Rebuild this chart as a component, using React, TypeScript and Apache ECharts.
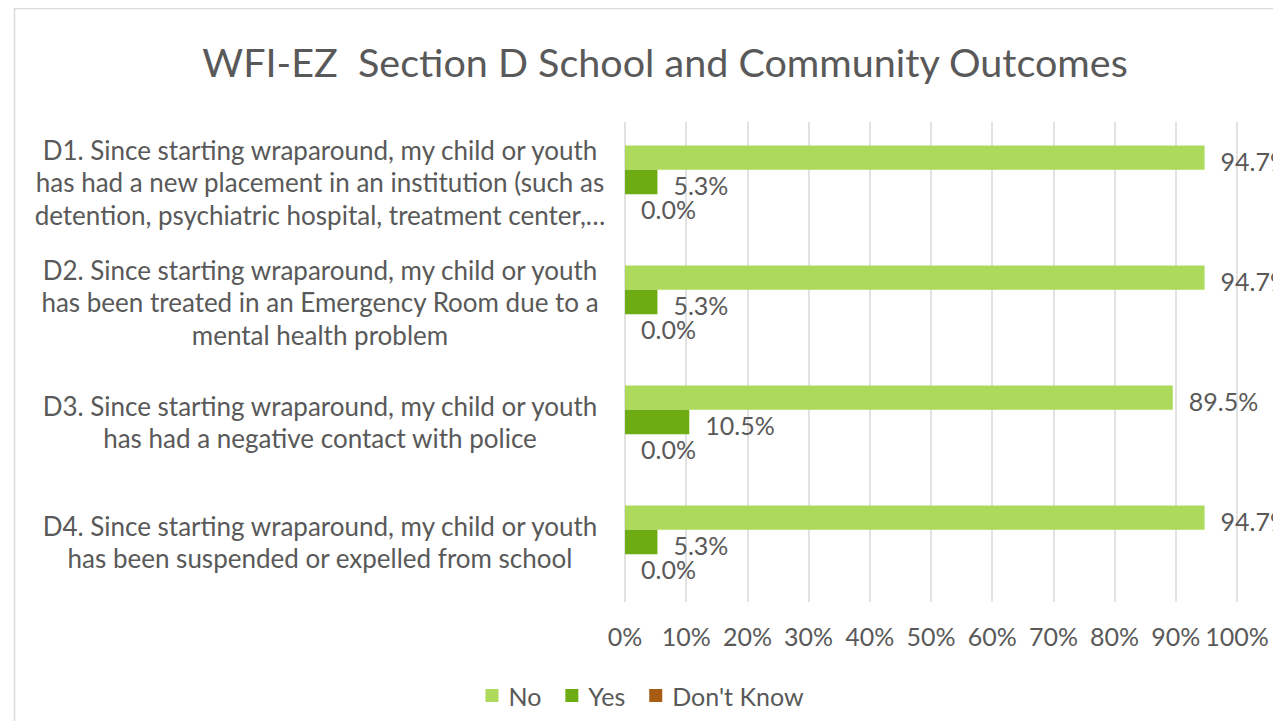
import React, { useEffect, useRef } from "react";
import * as echarts from "echarts";

const categories = [
  "D1. Since starting wraparound, my child or youth\nhas had a new placement in an institution (such as\ndetention, psychiatric hospital, treatment center,…",
  "D2. Since starting wraparound, my child or youth\nhas been treated in an Emergency Room due to a\nmental health problem",
  "D3. Since starting wraparound, my child or youth\nhas had a negative contact with police",
  "D4. Since starting wraparound, my child or youth\nhas been suspended or expelled from school",
];
const noValues = [94.7, 94.7, 89.5, 94.7];
const yesValues = [5.3, 5.3, 10.5, 5.3];
const dontKnowValues = [0.0, 0.0, 0.0, 0.0];
const xTicks = [0, 10, 20, 30, 40, 50, 60, 70, 80, 90, 100];

const FONT = "Lato";
const TEXT = "#595959";

export default function App() {
  const ref = useRef<HTMLDivElement>(null);
  useEffect(() => {
    if (!ref.current) return;
    const chart = echarts.init(ref.current, null, { renderer: "svg" });
    const label = {
      show: true,
      position: "right",
      distance: 16,
      offset: [0, 3],
      color: TEXT,
      fontFamily: FONT,
      fontSize: 25,
      formatter: (p: any) => p.value.toFixed(1) + "%",
    };
    const mk = (name: string, data: number[], color: string) => ({
      name,
      type: "bar",
      data,
      itemStyle: { color },
      label,
      barGap: "0%",
      barCategoryGap: "39%",
    });
    chart.setOption({
      animation: false,
      backgroundColor: "#ffffff",
      textStyle: { fontFamily: FONT },
      title: {
        text: "WFI-EZ  Section D School and Community Outcomes",
        left: 652,
        textAlign: "center",
        top: 28,
        textStyle: { color: TEXT, fontFamily: FONT, fontSize: 39.5, fontWeight: "normal" },
      },
      graphic: [
        {
          type: "rect",
          shape: { x: 6.5, y: 0.5, width: 1400, height: 900 },
          style: { fill: "none", stroke: "#d9d9d9", lineWidth: 1.5 },
          silent: true,
        },
      ],
      legend: {
        bottom: 8,
        left: "center",
        itemWidth: 13,
        itemHeight: 13,
        itemGap: 24,
        icon: "rect",
        textStyle: { color: TEXT, fontFamily: FONT, fontSize: 25, padding: [0, 0, 0, 5] },
        data: ["No", "Yes", "Don't Know"],
      },
      grid: { left: 617, right: 44, top: 114, bottom: 119, containLabel: false },
      xAxis: {
        type: "value",
        min: 0,
        max: 100,
        interval: 10,
        axisLine: { show: false },
        axisTick: { show: false },
        splitLine: { lineStyle: { color: "#d9d9d9", width: 1.5 } },
        axisLabel: {
          color: TEXT,
          fontFamily: FONT,
          fontSize: 25,
          margin: 21,
          formatter: (v: number) => (xTicks.includes(v) ? v + "%" : ""),
        },
      },
      yAxis: {
        type: "category",
        inverse: true,
        data: categories,
        axisLine: { show: false },
        axisTick: { show: false },
        axisLabel: {
          color: TEXT,
          fontFamily: FONT,
          fontSize: 26,
          lineHeight: 32.5,
          align: "center",
          margin: 305,
        },
      },
      series: [
        mk("No", noValues, "#ADDA5A"),
        mk("Yes", yesValues, "#6EAC14"),
        mk("Don't Know", dontKnowValues, "#A65C12"),
      ],
    });
    return () => chart.dispose();
  }, []);
  return <div ref={ref} style={{ width: 1273, height: 713 }} />;
}
